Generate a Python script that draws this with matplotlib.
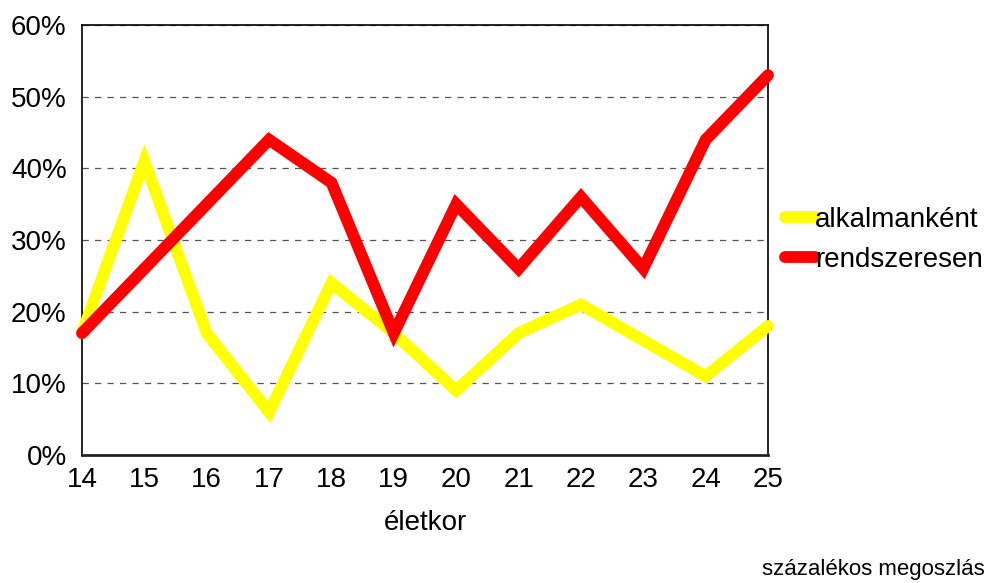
import matplotlib.pyplot as plt
from matplotlib.ticker import PercentFormatter

plt.rcParams['font.family'] = ['Liberation Sans', 'DejaVu Sans']

# age groups and shares (%)
ages = [14, 15, 16, 17, 18, 19, 20, 21, 22, 23, 24, 25]
alkalmankent = [17, 41, 17, 6, 24, 17, 9, 17, 21, 16, 11, 18]
rendszeresen = [17, 26, 35, 44, 38, 17, 35, 26, 36, 26, 44, 53]
series_names = ["alkalmanként", "rendszeresen"]

fig = plt.figure(figsize=(9.99, 5.83), dpi=100)
ax = fig.add_axes([0.0821, 0.2196, 0.6867, 0.7375])

ax.plot(ages, alkalmankent, color='#FFFF00', linewidth=8.5, solid_capstyle='round',
        solid_joinstyle='miter', label=series_names[0], clip_on=False, zorder=3)
ax.plot(ages, rendszeresen, color='#FF0000', linewidth=8.5, solid_capstyle='round',
        solid_joinstyle='miter', label=series_names[1], clip_on=False, zorder=4)

ax.set_xlim(14, 25)
ax.set_ylim(0, 60)
ax.set_xticks(ages)
ax.set_yticks(range(0, 61, 10))
ax.yaxis.set_major_formatter(PercentFormatter(decimals=0))
ax.tick_params(length=0, labelsize=20)
ax.tick_params(axis='x', pad=9)
ax.tick_params(axis='y', pad=11)

ax.grid(axis='y', linestyle=(0, (5, 5)), color='#555555', linewidth=0.9)
ax.set_axisbelow(True)
for s in ax.spines.values():
    s.set_color('black')
    s.set_linewidth(1.2)
ax.spines['bottom'].set_linewidth(2)
ax.spines['bottom'].set_color('#222222')

ax.set_xlabel("életkor", fontsize=20, labelpad=12)

ax.legend(loc='center left', bbox_to_anchor=(1.0, 0.5), frameon=False, fontsize=20,
          handlelength=1.1, handletextpad=0.0, labelspacing=0.5, borderaxespad=0.2)

fig.text(0.986, 0.005, "százalékos megoszlás", ha='right', va='bottom', fontsize=16)

fig.savefig("out.png", dpi=100)
